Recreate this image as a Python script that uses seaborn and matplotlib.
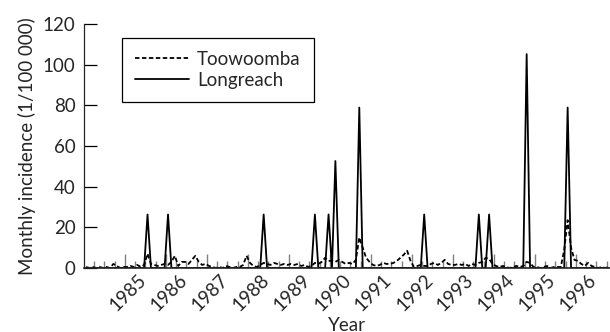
import matplotlib
matplotlib.use("Agg")
import matplotlib.pyplot as plt
import matplotlib.transforms as mtransforms
import seaborn as sns
import numpy as np
import pandas as pd

# monthly incidence per 100 000, Jan 1984 onwards (one row per year)
toowoomba = [
    0.5, 0, 0.5, 0, 0.5, 0, 0.5, 0, 2, 1, 0, 0.5,          # 1984
    0.5, 1, 0.5, 1.5, 0.5, 1.5, 7, 2, 1.5, 1, 1.5, 2,      # 1985
    1.5, 3, 6, 1, 3, 3, 2, 4, 6, 3, 1.5, 2,                # 1986
    1, 0.5, 0, 0.5, 0, 1, 0.5, 0, 0.5, 0.5, 1.5, 6,        # 1987
    2.5, 1, 0.5, 1.5, 2.5, 2, 1.5, 2.5, 2, 1.5, 2, 1.5,    # 1988
    2, 1.5, 2, 1, 1.5, 0.5, 1, 2.5, 2, 3, 5, 3.5,          # 1989
    3.5, 3, 4, 3, 2, 2.5, 2, 4, 15, 10, 5, 3,              # 1990
    1.5, 1, 1.5, 2.5, 2, 2, 2.5, 3.5, 5, 6.5, 8.5, 3.5,    # 1991
    0.5, 1, 1.5, 1, 1, 2, 2.5, 1.5, 2.5, 4, 2, 1.5,        # 1992
    1.5, 2, 1.5, 2, 1, 2, 1.5, 2.5, 3, 5, 4.5, 2,          # 1993
    1, 0.5, 1, 0.5, 0, 0.5, 1, 0.5, 1, 3, 2.5, 0.5,        # 1994
    0.5, 0, 0.5, 1, 0, 0.5, 0.5, 0.5, 9, 23.5, 10, 4,      # 1995
    3.5, 2, 1, 2.5, 1, 0.5, 0, 0.5, 0, 0.5,                # 1996
]
longreach = [
    0, 0, 0, 0, 0, 0, 0, 0, 0, 0, 0, 0,                    # 1984
    0, 0, 0, 0, 0, 0, 26.3, 0, 0, 0, 0, 0,                 # 1985
    26.3, 0, 0, 0, 0, 0, 0, 0, 0, 0, 0, 0,                 # 1986
    0, 0, 0, 0, 0, 0, 0, 0, 0, 0, 0, 0,                    # 1987
    0, 0, 0, 0, 26.3, 0, 0, 0, 0, 0, 0, 0,                 # 1988
    0, 0, 0, 0, 0, 0, 0, 26.3, 0, 0, 0, 26.3,              # 1989
    0, 52.6, 0, 0, 0, 0, 0, 0, 78.9, 0, 0, 0,              # 1990
    0, 0, 0, 0, 0, 0, 0, 0, 0, 0, 0, 0,                    # 1991
    0, 0, 0, 26.3, 0, 0, 0, 0, 0, 0, 0, 0,                 # 1992
    0, 0, 0, 0, 0, 0, 0, 26.3, 0, 0, 26.3, 0,              # 1993
    0, 0, 0, 0, 0, 0, 0, 0, 0, 105.2, 0, 0,                # 1994
    0, 0, 0, 0, 0, 0, 0, 0, 0, 78.9, 0, 0,                 # 1995
    0, 0, 0, 0, 0, 0, 0, 0, 0, 0,                          # 1996
]
year_labels = [str(y) for y in range(1985, 1997)]
y_ticks = [0, 20, 40, 60, 80, 100, 120]

months = np.arange(len(toowoomba)) + 0.6
df = pd.DataFrame({
    "month": np.concatenate([months, months]),
    "incidence": toowoomba + longreach,
    "site": ["Toowoomba"] * len(toowoomba) + ["Longreach"] * len(longreach),
})

sns.set_style("ticks")
plt.rcParams["font.family"] = ["Lato", "DejaVu Sans"]
plt.rcParams["lines.scale_dashes"] = False

fig = plt.figure(figsize=(6.1, 3.32), dpi=100)
ax = fig.add_axes([0.1377, 0.1928, 0.8623, 0.7349])

sns.lineplot(data=df, x="month", y="incidence", style="site",
             style_order=["Toowoomba", "Longreach"],
             dashes={"Toowoomba": (3.2, 1.8), "Longreach": ""},
             color="black", linewidth=1.3, ax=ax, legend=True)

ax.set_xlim(0, 154)
ax.set_ylim(0, 120)
ax.set_yticks(y_ticks)
ax.tick_params(axis="y", direction="in", length=9, width=0.9, labelsize=13.5,
               color="black", pad=6)

year_pos = [12 * (i + 1) for i in range(len(year_labels))]
ax.set_xticks(year_pos)
ax.set_xticklabels(year_labels, rotation=45, ha="right", va="top",
                   rotation_mode="anchor", fontsize=13.5)
ax.set_xticks(np.arange(3, 154, 3), minor=True)
ax.tick_params(axis="x", which="major", direction="in", length=10, width=1.0,
               color="#808080", pad=2)
ax.tick_params(axis="x", which="minor", direction="in", length=5, width=1.0,
               color="#808080")
shift = mtransforms.ScaledTranslation(0.12, 0, fig.dpi_scale_trans)
for lab in ax.get_xticklabels():
    lab.set_transform(lab.get_transform() + shift)

for s in ["top", "right"]:
    ax.spines[s].set_visible(False)
ax.spines["left"].set_linewidth(0.9)
ax.spines["bottom"].set_linewidth(1.2)

ax.set_xlabel("Year", fontsize=13.5, labelpad=2)
ax.set_ylabel("Monthly incidence (1/100 000)", fontsize=13.5, labelpad=5)

handles, labels = ax.get_legend_handles_labels()
leg = ax.legend(handles, labels, loc="upper left",
                bbox_to_anchor=(0.072, 0.943), borderaxespad=0,
                fontsize=13.5, handlelength=2.9, handletextpad=0.4,
                labelspacing=0.2, borderpad=0.7, fancybox=False,
                framealpha=1, edgecolor="black")
leg.get_frame().set_linewidth(0.9)

fig.savefig("out.png", dpi=100)
